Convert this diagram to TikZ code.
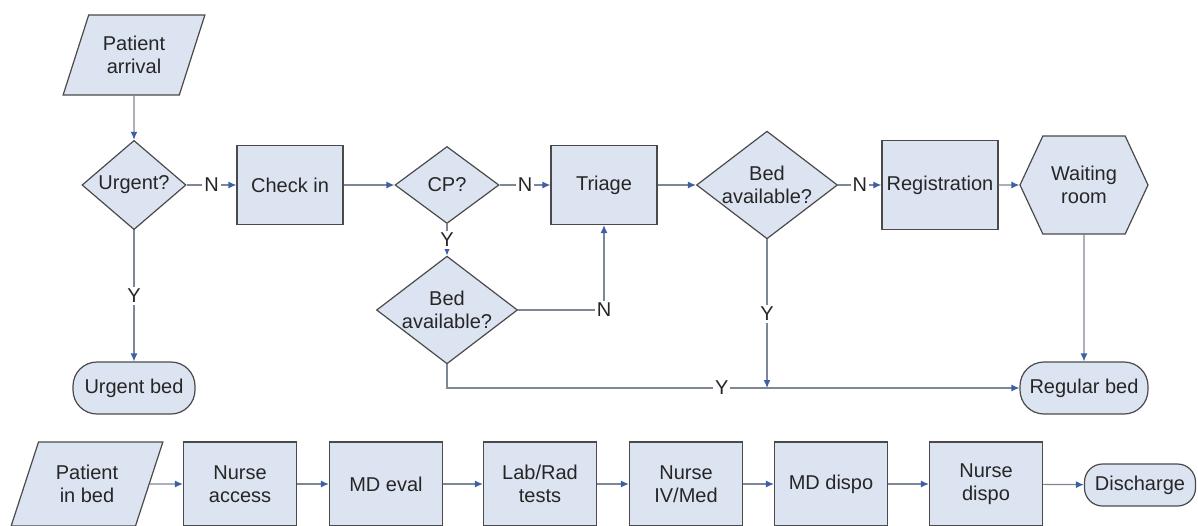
\documentclass[tikz,border=0pt]{standalone}
\usepackage{fontspec}
\setmainfont{Liberation Sans}
\usetikzlibrary{shapes.geometric,shapes.symbols,arrows.meta}
\definecolor{boxfill}{HTML}{DCE4F2}
\definecolor{boxline}{HTML}{4A4A4A}
\definecolor{flowline}{HTML}{7D8797}
\definecolor{tipblue}{HTML}{3D5FA5}
\begin{document}
\begin{tikzpicture}[x=0.5pt, y=-0.5pt,
    font=\fontsize{10}{11.5}\selectfont,
    shapebase/.style={draw=boxline, fill=boxfill, line width=0.6pt, align=center, text=black!85, inner sep=1pt},
    proc/.style={shapebase, rectangle, minimum width=53pt, minimum height=39.5pt},
    rowbox/.style={proc, minimum width=56.5pt, minimum height=42pt},
    decision/.style={shapebase, diamond, inner sep=0pt, minimum width=52pt, minimum height=38.5pt},
    bigdecision/.style={decision, inner xsep=-5pt, minimum width=70.5pt, minimum height=52.5pt},
    io/.style={shapebase, trapezium, trapezium left angle=65, trapezium right angle=115, trapezium stretches=true, inner sep=0pt, minimum width=71pt, minimum height=40pt},
    terminal/.style={shapebase, rectangle, rounded corners=12pt, minimum width=64pt, minimum height=26pt},
    wait/.style={shapebase, signal, signal to=east and west, signal pointer angle=130, minimum width=64pt, minimum height=49pt},
    conn/.style={draw=flowline, line width=0.6pt, -{Latex[length=4pt,width=3.5pt,color=tipblue]}},
    lbl/.style={fill=white, inner sep=1pt, text=black!85}]
    \useasboundingbox (0,0) rectangle (1198,525);

    % admission
    \node[io] (arrival) at (134,55) {Patient\\arrival};
    \node[decision] (urgent) at (134,185) {Urgent?};
    \node[terminal, minimum width=61pt] (urgbed) at (134,388) {Urgent bed};
    \node[proc] (checkin) at (290,185) {Check in};
    \node[decision] (cp) at (447,185) {CP?};
    \node[proc] (triage) at (604,185) {Triage};
    \node[bigdecision] (bedA) at (767,185) {Bed\\available?};
    \node[proc, minimum width=58pt, minimum height=44.5pt] (reg) at (940,185) {Registration};
    \node[wait] (waiting) at (1084,185) {Waiting\\room};
    \node[bigdecision] (bedB) at (447,310) {Bed\\available?};
    \node[terminal] (regbed) at (1084,388) {Regular bed};
    \coordinate (join) at (bedA.south |- regbed.west);

    \draw[conn] (arrival) -- (urgent);
    \draw[conn] (urgent) -- node[lbl]{N} (checkin);
    \draw[conn] (urgent) -- node[lbl]{Y} (urgbed);
    \draw[conn] (checkin) -- (cp);
    \draw[conn] (cp) -- node[lbl]{N} (triage);
    \draw[conn] (cp) -- node[lbl]{Y} (bedB);
    \draw[conn] (bedB.east) -| node[lbl, pos=0.5]{N} (triage.south);
    \draw[conn] (triage) -- (bedA);
    \draw[conn] (bedA) -- node[lbl]{N} (reg);
    \draw[conn] (reg) -- (waiting);
    \draw[conn] (waiting) -- (regbed);
    \draw[conn] (bedA) -- node[lbl]{Y} (join);
    \draw[conn] (bedB.south) |- node[lbl, pos=0.74]{Y} (regbed.west);

    % in bed
    \node[io, minimum width=76pt, minimum height=42pt] (inbed) at (87,484) {Patient\\in bed};
    \node[rowbox] (nacc) at (240,484) {Nurse\\access};
    \node[rowbox] (mdeval) at (386,484) {MD eval};
    \node[rowbox] (labrad) at (540,484) {Lab/Rad\\tests};
    \node[rowbox] (nivmed) at (686,484) {Nurse\\IV/Med};
    \node[rowbox] (mddispo) at (831,484) {MD dispo};
    \node[rowbox] (ndispo) at (986,484) {Nurse\\dispo};
    \node[terminal, rounded corners=9pt, minimum width=55.5pt, minimum height=21pt] (discharge) at (1140,485) {Discharge};

    \draw[conn] (inbed) -- (nacc);
    \draw[conn] (nacc) -- (mdeval);
    \draw[conn] (mdeval) -- (labrad);
    \draw[conn] (labrad) -- (nivmed);
    \draw[conn] (nivmed) -- (mddispo);
    \draw[conn] (mddispo) -- (ndispo);
    \draw[conn] (ndispo) -- (discharge);
\end{tikzpicture}
\end{document}
